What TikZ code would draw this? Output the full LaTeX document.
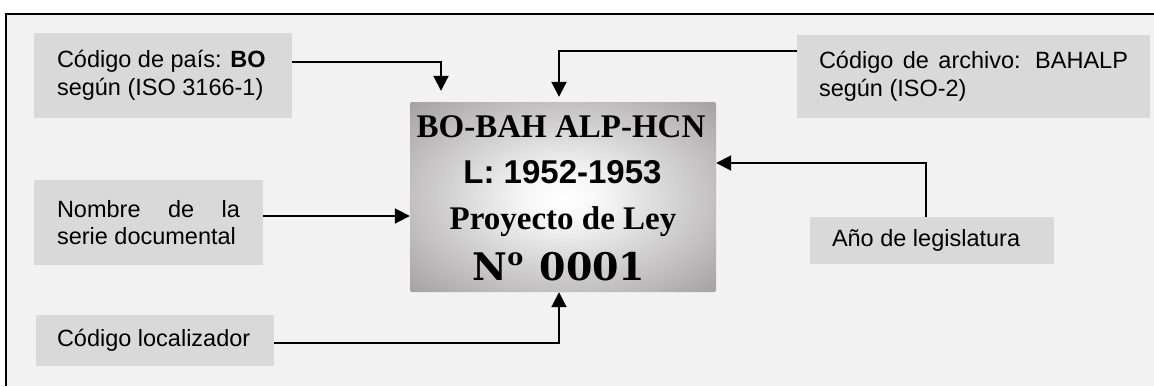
\documentclass[tikz,border=0pt]{standalone}
\usepackage{fontspec}
\setmainfont{Liberation Sans}
\newfontfamily\serifb{Liberation Serif}
\newfontfamily\dvserif{DejaVu Serif}
\usetikzlibrary{arrows.meta}
\definecolor{bgc}{HTML}{F2F2F2}
\definecolor{lblc}{HTML}{D9D9D9}
\definecolor{edgegray}{HTML}{7A7676}
\pgfdeclareradialshading{mainshade}{\pgfpoint{0bp}{0bp}}{color(0bp)=(white); color(6bp)=(white!97!black); color(50bp)=(edgegray); color(75bp)=(edgegray)}
\newcommand\labfont{\fontsize{23.5}{27.5}\selectfont}
\newcommand\lline[2]{\makebox[#1][l]{#2}}
\newcommand\jline[2]{\makebox[#1][s]{#2}}
\begin{document}
\begin{tikzpicture}[x=1pt,y=-1pt,
  lblbox/.style={fill=lblc, inner ysep=0pt, inner xsep=0pt, anchor=center, align=left, font=\labfont},
  conn/.style={line width=2pt, -{Triangle[length=15pt,width=15pt]}},
  mainbox/.style={minimum width=306, minimum height=190, shading=mainshade, rounded corners=2pt, inner sep=0pt},
  sertxt/.style={anchor=base, font=\serifb\bfseries\fontsize{33}{33}\selectfont}]
\useasboundingbox (0,0) rectangle (1154,386);
\fill[bgc] (6,14) rectangle (1154,386);
\draw[line width=1.2pt] (6,386) -- (6,14) -- (1154,14);

\node[lblbox, minimum width=258, minimum height=85] (b1) at (163,75.5)
  {\lline{212pt}{Código de país: \textbf{BO}}\\\lline{212pt}{según (ISO 3166-1)}};
\node[lblbox, minimum width=229, minimum height=85] (b2) at (148.5,222.5)
  {\jline{183pt}{Nombre de la}\\\lline{183pt}{serie documental}};
\node[lblbox, minimum width=238, minimum height=51] (b3) at (155,340.5)
  {\lline{196pt}{Código localizador}};
\node[lblbox, minimum width=353, minimum height=83] (b4) at (973.5,76.5)
  {\jline{309pt}{Código de archivo: BAHALP}\\\lline{309pt}{según (ISO-2)}};
\node[lblbox, minimum width=244, minimum height=47] (b5) at (932,240.5)
  {\lline{200pt}{Año de legislatura}};

\node[mainbox] (main) at (563,197) {};
\node[sertxt] (t1) at (561,137) {BO-BAH ALP-HCN};
\node[anchor=base, font=\bfseries\fontsize{33}{33}\selectfont] (t2) at (562.5,183) {L: 1952-1953};
\node[sertxt] (t3) at (563,229) {Proyecto de Ley};
\node[anchor=base, font=\dvserif\bfseries\fontsize{38}{38}\selectfont] (t4) at (559,280)
  {N\raisebox{15pt}{\fontsize{24}{24}\selectfont o}\hspace{3pt} 0001};

\draw[conn, shorten >=11pt] (b1.east |- 0,62) -| (main.north -| 441,0);
\draw[conn, shorten >=5pt] (b4.west |- 0,51) -| (main.north -| 559,0);
\draw[conn] (b2.east |- 0,216) -- (main.west |- 0,216);
\draw[conn] (b3.east |- 0,343) -| (main.south -| 559,0);
\draw[conn] (b5.north -| 926,0) |- (main.east |- 0,163);
\end{tikzpicture}
\end{document}
